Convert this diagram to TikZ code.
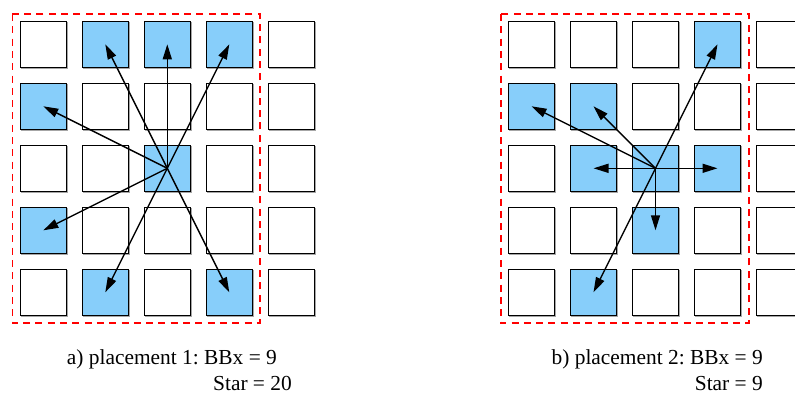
\documentclass[tikz,border=0pt]{standalone}
\usepackage{fontspec}
\setmainfont{Liberation Serif}
\usetikzlibrary{arrows.meta}
\definecolor{cellblue}{HTML}{87CEFA}
\tikzset{
  cell/.style={draw=black, line width=1.1pt, minimum size=46pt, inner sep=0pt, fill=white},
  hot/.style={fill=cellblue},
  shade/.style={draw=black!35, line width=1.2pt, minimum size=46pt, inner sep=0pt},
  link/.style={line width=1.4pt, -{Triangle[length=15pt,width=9pt]}},
  bound/.style={draw=red, line width=1.6pt, dash pattern=on 7pt off 5.3pt},
  lbl/.style={font=\fontsize{21.4}{25}\selectfont, inner sep=0pt}
}
\begin{document}
\frenchspacing
\begin{tikzpicture}[x=1pt,y=-1pt]
\useasboundingbox (0,0) rectangle (795,394);
\clip (0,0) rectangle (795,394);
\foreach \i in {0,...,4}{
  \foreach \j in {0,...,4}{
    \node[shade] at (44.3+62*\i, 45.3+62*\j) {};
    \node[shade] at (532.5+62*\i, 45.3+62*\j) {};
    \node[cell] (L-\i-\j) at (43.3+62*\i, 44.3+62*\j) {};
    \node[cell] (R-\i-\j) at (531.5+62*\i, 44.3+62*\j) {};
  }
}
\foreach \c in {1-0,2-0,3-0,0-1,2-2,0-3,1-4,3-4}{
  \node[cell,hot] at (L-\c) {};
}
\foreach \c in {3-0,0-1,1-1,1-2,2-2,3-2,2-3,1-4}{
  \node[cell,hot] at (R-\c) {};
}
\draw[bound] (12.3,14) rectangle (260,323);
\draw[bound] (500.7,14) rectangle (749,323);
\foreach \c in {1-0,2-0,3-0,0-1,0-3,1-4,3-4}{
  \draw[link] (L-2-2.center) -- (L-\c.center);
}
\foreach \c in {3-0,0-1,1-1,1-2,3-2,2-3,1-4}{
  \draw[link] (R-2-2.center) -- (R-\c.center);
}
\node[lbl, anchor=base west] (ta1) at (66.7,364) {a) placement 1: BBx = 9};
\node[lbl, anchor=base east] (ta2) at (292,390) {Star = 20};
\node[lbl, anchor=base east] (tb1) at (763,364) {b) placement 2: BBx = 9};
\node[lbl, anchor=base east] (tb2) at (763,390) {Star = 9};
\end{tikzpicture}
\end{document}
